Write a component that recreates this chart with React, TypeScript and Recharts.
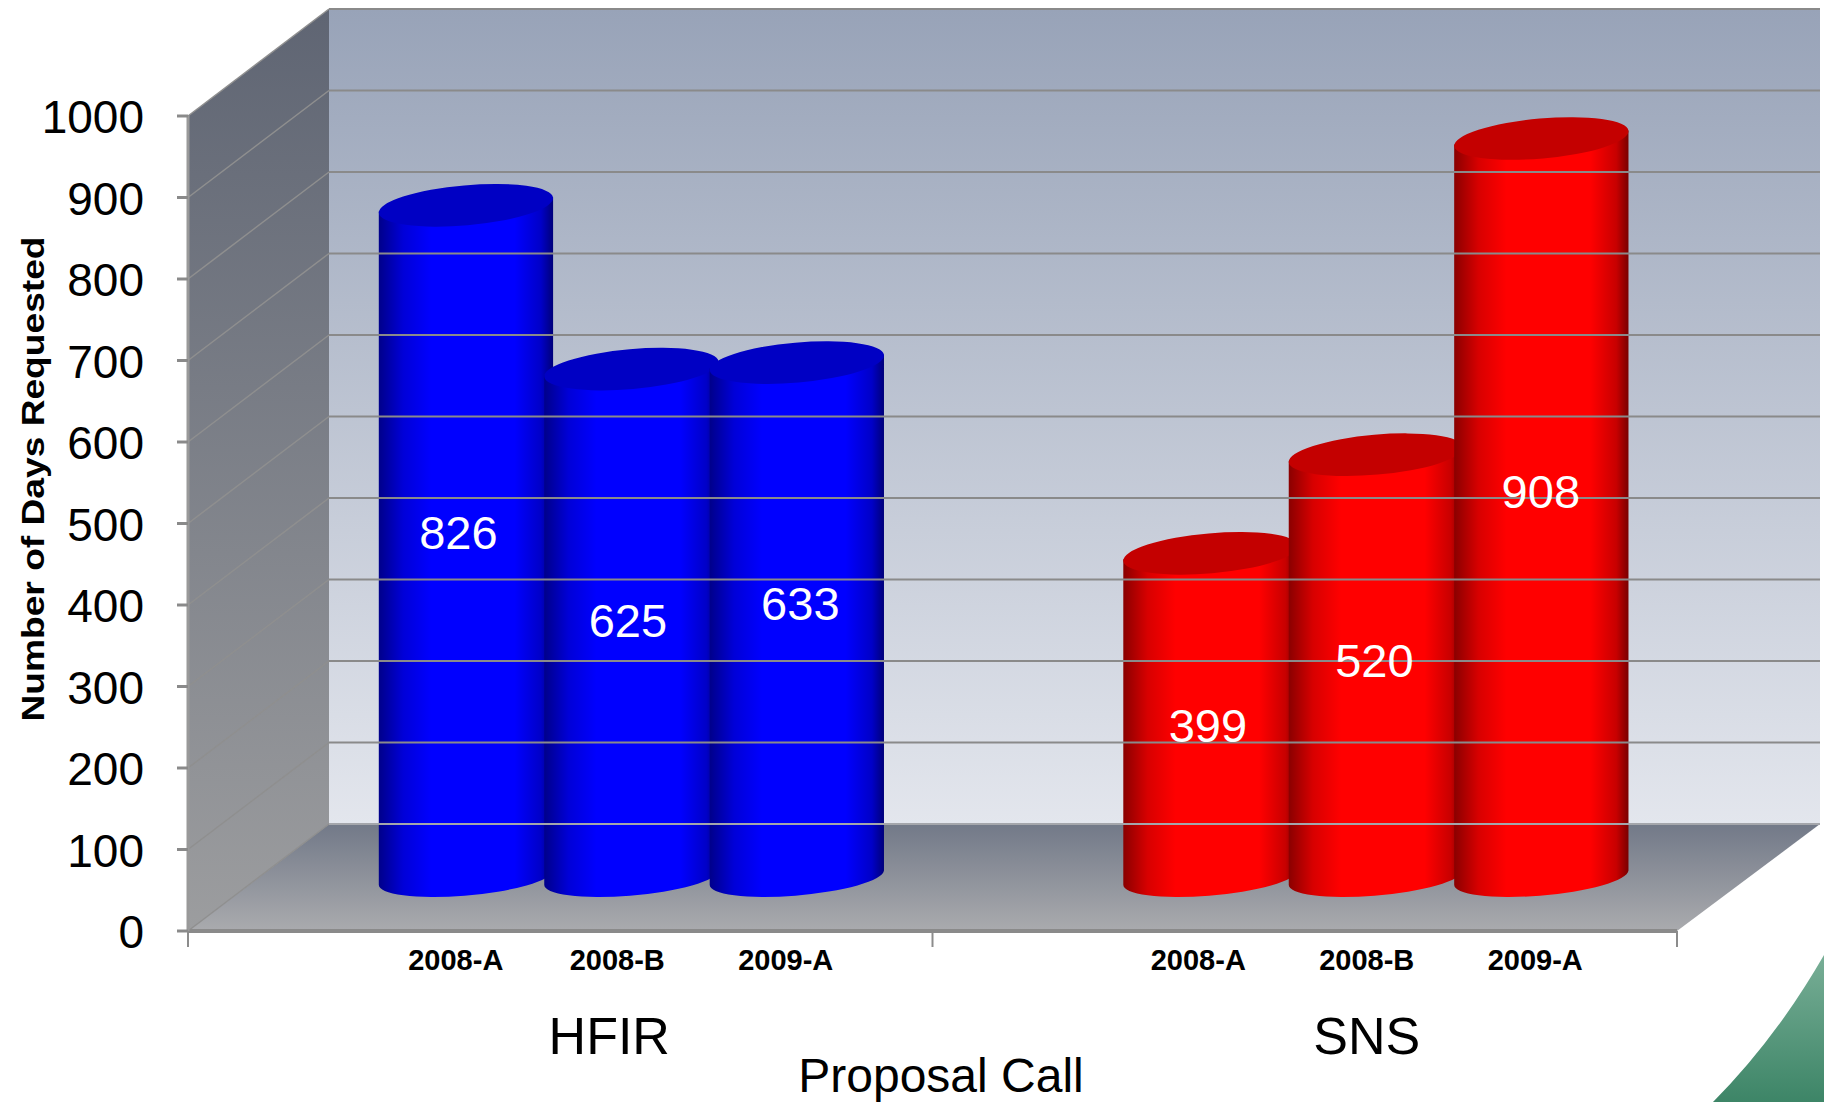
import React from 'react';
import { BarChart, Bar, XAxis, YAxis, ReferenceArea, ReferenceLine, LabelList, Label } from 'recharts';

const FONT = '"Liberation Sans", Arial, sans-serif';

// one slot per half column, blanks keep the gap between the two groups
const proposalCalls = ['', '', '2008-A', '', '2008-B', '', '2009-A', '', '', '', '', '2008-A', '', '2008-B', '', '2009-A', '', ''];
const facilities = ['', '', 'HFIR', '', 'HFIR', '', 'HFIR', '', '', '', '', 'SNS', '', 'SNS', '', 'SNS', '', ''];
const groupLabels = ['', '', '', '', 'HFIR', '', '', '', '', '', '', '', '', 'SNS', '', '', '', ''];
const daysRequested = [null, null, 826, null, 625, null, 633, null, null, null, null, 399, null, 520, null, 908, null, null];
const yTicks = [0, 100, 200, 300, 400, 500, 600, 700, 800, 900, 1000];

// hand placed labels in the original, they do not sit exactly mid column
const labelNudge: [number, number][] = [
    [-7, -8],
    [-3, -2],
    [4, -16],
    [-2, 11],
    [-1, -5],
    [0, -16],
];
const callTickNudge: Record<number, number> = { 2: 2, 4: -2, 6: 1, 11: 0, 13: 3, 15: 6 };

const data = proposalCalls.map((call, i) => ({
    call,
    facility: facilities[i],
    group: groupLabels[i],
    days: daysRequested[i],
}));

// 3D box depth, the columns stand half way in
const DEPTH_X = 141;
const DEPTH_Y = 107;
const TILT = -5;

function Walls(props: any) {
    const { x, y, width, height } = props;
    const bottom = y + height;
    const right = x + width;
    return (
        <g>
            <rect x={x + DEPTH_X} y={y - DEPTH_Y} width={width + 2} height={height} fill="url(#backWall)" />
            <polygon
                points={`${x},${y} ${x + DEPTH_X},${y - DEPTH_Y} ${x + DEPTH_X},${bottom - DEPTH_Y} ${x},${bottom}`}
                fill="url(#sideWall)"
            />
            <polygon
                points={`${x},${bottom} ${x + DEPTH_X},${bottom - DEPTH_Y} ${right + DEPTH_X + 2},${bottom - DEPTH_Y} ${right},${bottom}`}
                fill="url(#floor)"
            />
            <line x1={x + width / 2} x2={x + width / 2} y1={bottom} y2={bottom + 16} stroke="#8c8c8c" strokeWidth={2} />
            <line x1={right} x2={right} y1={bottom} y2={bottom + 16} stroke="#8c8c8c" strokeWidth={2} />
            <line x1={x} x2={x} y1={bottom} y2={bottom + 16} stroke="#8c8c8c" strokeWidth={2} />
        </g>
    );
}

function WallLine(props: any) {
    const { x1, x2, y1, isFloor } = props;
    return (
        <g>
            <line x1={x1} y1={y1} x2={x1 + DEPTH_X} y2={y1 - DEPTH_Y} stroke="#8f8f8f" strokeWidth={1.5} />
            <line
                x1={x1 + DEPTH_X}
                y1={y1 - DEPTH_Y}
                x2={x2 + DEPTH_X + 2}
                y2={y1 - DEPTH_Y}
                stroke={isFloor ? '#a4a6ab' : '#8a8a8a'}
                strokeWidth={2}
            />
        </g>
    );
}

function Cylinder(props: any) {
    const { x, y, width, height, payload } = props;
    if (payload.days == null) return null;
    const isHfir = payload.facility === 'HFIR';
    const cx = x + width / 2 + DEPTH_X / 2 + 0.5;
    const top = y - DEPTH_Y / 2;
    const bottom = y + height - DEPTH_Y / 2;
    const halfW = width * 1.05;
    const rx = halfW + 0.3;
    const skew = 7;
    const body = [
        `M${cx - halfW},${top + skew}`,
        `L${cx - halfW},${bottom + skew}`,
        `A${rx},18 ${TILT} 0 0 ${cx + halfW},${bottom - skew}`,
        `L${cx + halfW},${top - skew}`,
        'Z',
    ].join(' ');
    return (
        <g>
            <path d={body} fill={isHfir ? 'url(#blueSide)' : 'url(#redSide)'} />
            <ellipse
                cx={cx}
                cy={top + 1}
                rx={rx}
                ry={20}
                transform={`rotate(${TILT} ${cx} ${top + 1})`}
                fill={isHfir ? '#0000c4' : '#c40000'}
            />
        </g>
    );
}

function ValueLabel(props: any) {
    const { x, y, width, height, value, index } = props;
    if (value == null) return null;
    const nudge = labelNudge[index] || [0, 0];
    return (
        <text
            x={x + width / 2 + DEPTH_X / 2 + nudge[0]}
            y={y + height / 2 - DEPTH_Y / 2 + nudge[1]}
            textAnchor="middle"
            dominantBaseline="central"
            fontFamily={FONT}
            fontSize={47}
            fill="#ffffff"
        >
            {value}
        </text>
    );
}

function GroupTick(props: any) {
    const { x, y, payload } = props;
    if (!payload.value) return null;
    const dx = payload.value === 'HFIR' ? 49 : 62;
    return (
        <text x={x + dx} y={y + 55} textAnchor="middle" fontFamily={FONT} fontSize={52} fill="#000000">
            {payload.value}
        </text>
    );
}

function CallTick(props: any) {
    const { x, y, payload, index } = props;
    if (!payload.value) return null;
    const nudge = callTickNudge[index] || 0;
    return (
        <text x={x + 59 + nudge} y={y + 31} textAnchor="middle" fontFamily={FONT} fontWeight="bold" fontSize={29} fill="#000000">
            {payload.value}
        </text>
    );
}

function YTitle() {
    return (
        <text
            transform="translate(33,479) rotate(-90)"
            textAnchor="middle"
            dominantBaseline="central"
            fontFamily={FONT}
            fontWeight="bold"
            fontSize={32}
            textLength={485}
            lengthAdjust="spacingAndGlyphs"
            fill="#000000"
        >
            Number of Days Requested
        </text>
    );
}

export default function App() {
    return (
        <div style={{ width: 1824, height: 1102, background: '#ffffff' }}>
            <style>{'body{margin:0}'}</style>
            <BarChart
                width={1824}
                height={1102}
                data={data}
                margin={{ top: 116, right: 147, bottom: 0, left: 0 }}
                barCategoryGap={0}
            >
                <defs>
                    <linearGradient id="backWall" x1="0" y1="0" x2="0" y2="1">
                        <stop offset="0" stopColor="#98a3b8" />
                        <stop offset="1" stopColor="#e3e6ed" />
                    </linearGradient>
                    <linearGradient id="sideWall" x1="0" y1="0" x2="0" y2="1">
                        <stop offset="0" stopColor="#5f6573" />
                        <stop offset="1" stopColor="#9c9d9f" />
                    </linearGradient>
                    <linearGradient id="floor" x1="0" y1="0" x2="0" y2="1">
                        <stop offset="0" stopColor="#727988" />
                        <stop offset="1" stopColor="#aaabae" />
                    </linearGradient>
                    <linearGradient id="blueSide" x1="0" y1="0" x2="1" y2="0">
                        <stop offset="0" stopColor="#00008a" />
                        <stop offset="0.14" stopColor="#0000d8" />
                        <stop offset="0.3" stopColor="#0000ff" />
                        <stop offset="0.78" stopColor="#0000ff" />
                        <stop offset="0.93" stopColor="#0000c8" />
                        <stop offset="1" stopColor="#00007a" />
                    </linearGradient>
                    <linearGradient id="redSide" x1="0" y1="0" x2="1" y2="0">
                        <stop offset="0" stopColor="#8a0000" />
                        <stop offset="0.14" stopColor="#d80000" />
                        <stop offset="0.3" stopColor="#ff0000" />
                        <stop offset="0.78" stopColor="#ff0000" />
                        <stop offset="0.93" stopColor="#c80000" />
                        <stop offset="1" stopColor="#7a0000" />
                    </linearGradient>
                    <linearGradient id="cornerGreen" x1="0" y1="0" x2="0" y2="1">
                        <stop offset="0" stopColor="#78ae96" />
                        <stop offset="1" stopColor="#3d8567" />
                    </linearGradient>
                </defs>
                <path d="M1824,955 Q1775,1040 1713,1102 L1824,1102 Z" fill="url(#cornerGreen)" />
                <XAxis
                    dataKey="call"
                    interval={0}
                    height={60}
                    axisLine={{ stroke: '#8a8a8a', strokeWidth: 4 }}
                    tickLine={false}
                    tick={CallTick}
                />
                <XAxis
                    xAxisId="group"
                    dataKey="group"
                    interval={0}
                    height={111}
                    axisLine={false}
                    tickLine={false}
                    tick={GroupTick}
                >
                    <Label
                        content={() => (
                            <text x={941} y={1092} textAnchor="middle" fontFamily={FONT} fontSize={48} fill="#000000">
                                Proposal Call
                            </text>
                        )}
                    />
                </XAxis>
                <YAxis
                    width={188}
                    domain={[0, 1000]}
                    ticks={yTicks}
                    interval={0}
                    tickSize={11}
                    tickMargin={33}
                    axisLine={{ stroke: '#999999', strokeWidth: 3 }}
                    tickLine={{ stroke: '#8a8a8a', strokeWidth: 3 }}
                    tick={{ fontSize: 46, fontFamily: FONT, fill: '#000000', dy: 1 }}
                >
                    <Label content={YTitle} />
                </YAxis>
                <ReferenceArea y1={0} y2={1000} shape={Walls} fillOpacity={1} />
                {yTicks.map((tick) => (
                    <ReferenceLine key={tick} y={tick} shape={(p: any) => <WallLine {...p} isFloor={tick === 0} />} />
                ))}
                <Bar dataKey="days" shape={Cylinder} isAnimationActive={false}>
                    <LabelList dataKey="days" content={ValueLabel} />
                </Bar>
            </BarChart>
        </div>
    );
}
